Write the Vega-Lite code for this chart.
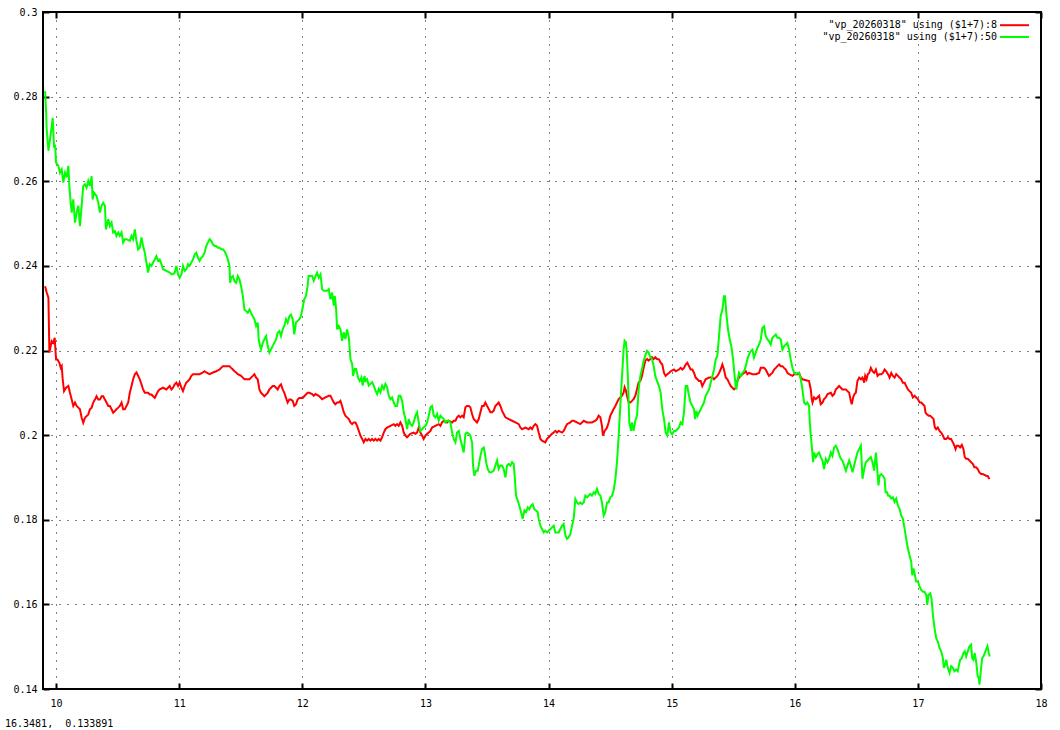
{
"$schema":"https://vega.github.io/schema/vega-lite/v6.json",
"width":998,"height":677,
"autosize":{"type":"none"},
"padding":{"left":43,"top":12,"right":19,"bottom":41},
"background":"white",
"config":{"view":{"stroke":"black","strokeWidth":2},"font":"DejaVu Sans Mono",
"axis":{"labelFont":"DejaVu Sans Mono","labelFontSize":10,"labelColor":"black","domain":false,"tickColor":"black","tickWidth":2,"title":null,"labelFlush":false,"labelOverlap":false,"labelBound":false}},
"title":{"text":"16.3481,\u00a0 0.133891","orient":"bottom","anchor":"start","frame":"group","font":"DejaVu Sans Mono","fontSize":10,"fontWeight":"normal","color":"black","dx":-38,"offset":11},
"datasets":{"d":[
{"s":"8","t":9.911,"v":0.2352},{"s":"8","t":9.924,"v":0.2337},{"s":"8","t":9.938,"v":0.2325},{"s":"8","t":9.946,"v":0.2195},{"s":"8","t":9.957,"v":0.2211},{"s":"8","t":9.965,"v":0.2222},{"s":"8","t":9.978,"v":0.2218},{"s":"8","t":9.989,"v":0.2230},{"s":"8","t":10.0,"v":0.2179},{"s":"8","t":10.011,"v":0.2179},{"s":"8","t":10.027,"v":0.2171},{"s":"8","t":10.038,"v":0.2159},{"s":"8","t":10.046,"v":0.2163},{"s":"8","t":10.054,"v":0.2132},{"s":"8","t":10.065,"v":0.2104},{"s":"8","t":10.081,"v":0.2112},{"s":"8","t":10.1,"v":0.2116},{"s":"8","t":10.113,"v":0.2100},{"s":"8","t":10.127,"v":0.2084},{"s":"8","t":10.14,"v":0.2069},{"s":"8","t":10.154,"v":0.2077},{"s":"8","t":10.167,"v":0.2069},{"s":"8","t":10.181,"v":0.2065},{"s":"8","t":10.194,"v":0.2061},{"s":"8","t":10.208,"v":0.2041},{"s":"8","t":10.221,"v":0.2029},{"s":"8","t":10.235,"v":0.2041},{"s":"8","t":10.248,"v":0.2045},{"s":"8","t":10.262,"v":0.2049},{"s":"8","t":10.275,"v":0.2061},{"s":"8","t":10.289,"v":0.2065},{"s":"8","t":10.302,"v":0.2077},{"s":"8","t":10.316,"v":0.2084},{"s":"8","t":10.329,"v":0.2092},{"s":"8","t":10.343,"v":0.2084},{"s":"8","t":10.356,"v":0.2084},{"s":"8","t":10.37,"v":0.2092},{"s":"8","t":10.383,"v":0.2092},{"s":"8","t":10.397,"v":0.2084},{"s":"8","t":10.41,"v":0.2077},{"s":"8","t":10.424,"v":0.2069},{"s":"8","t":10.437,"v":0.2069},{"s":"8","t":10.451,"v":0.2061},{"s":"8","t":10.464,"v":0.2053},{"s":"8","t":10.478,"v":0.2057},{"s":"8","t":10.491,"v":0.2061},{"s":"8","t":10.505,"v":0.2065},{"s":"8","t":10.518,"v":0.2069},{"s":"8","t":10.532,"v":0.2077},{"s":"8","t":10.545,"v":0.2061},{"s":"8","t":10.559,"v":0.2061},{"s":"8","t":10.572,"v":0.2069},{"s":"8","t":10.586,"v":0.2077},{"s":"8","t":10.599,"v":0.2100},{"s":"8","t":10.613,"v":0.2116},{"s":"8","t":10.626,"v":0.2132},{"s":"8","t":10.64,"v":0.2144},{"s":"8","t":10.653,"v":0.2148},{"s":"8","t":10.667,"v":0.2140},{"s":"8","t":10.68,"v":0.2132},{"s":"8","t":10.694,"v":0.2120},{"s":"8","t":10.707,"v":0.2108},{"s":"8","t":10.721,"v":0.2100},{"s":"8","t":10.748,"v":0.2100},{"s":"8","t":10.761,"v":0.2096},{"s":"8","t":10.775,"v":0.2096},{"s":"8","t":10.788,"v":0.2092},{"s":"8","t":10.802,"v":0.2088},{"s":"8","t":10.815,"v":0.2096},{"s":"8","t":10.829,"v":0.2104},{"s":"8","t":10.842,"v":0.2108},{"s":"8","t":10.869,"v":0.2112},{"s":"8","t":10.896,"v":0.2108},{"s":"8","t":10.923,"v":0.2116},{"s":"8","t":10.937,"v":0.2108},{"s":"8","t":10.95,"v":0.2112},{"s":"8","t":10.964,"v":0.2120},{"s":"8","t":10.977,"v":0.2124},{"s":"8","t":10.991,"v":0.2116},{"s":"8","t":11.004,"v":0.2124},{"s":"8","t":11.018,"v":0.2112},{"s":"8","t":11.031,"v":0.2104},{"s":"8","t":11.045,"v":0.2116},{"s":"8","t":11.058,"v":0.2124},{"s":"8","t":11.072,"v":0.2128},{"s":"8","t":11.085,"v":0.2132},{"s":"8","t":11.099,"v":0.2140},{"s":"8","t":11.112,"v":0.2144},{"s":"8","t":11.139,"v":0.2144},{"s":"8","t":11.166,"v":0.2144},{"s":"8","t":11.193,"v":0.2148},{"s":"8","t":11.206,"v":0.2151},{"s":"8","t":11.22,"v":0.2148},{"s":"8","t":11.247,"v":0.2144},{"s":"8","t":11.274,"v":0.2148},{"s":"8","t":11.301,"v":0.2151},{"s":"8","t":11.328,"v":0.2155},{"s":"8","t":11.355,"v":0.2163},{"s":"8","t":11.382,"v":0.2163},{"s":"8","t":11.409,"v":0.2163},{"s":"8","t":11.422,"v":0.2159},{"s":"8","t":11.436,"v":0.2155},{"s":"8","t":11.449,"v":0.2151},{"s":"8","t":11.463,"v":0.2148},{"s":"8","t":11.476,"v":0.2144},{"s":"8","t":11.503,"v":0.2140},{"s":"8","t":11.517,"v":0.2136},{"s":"8","t":11.53,"v":0.2132},{"s":"8","t":11.571,"v":0.2132},{"s":"8","t":11.584,"v":0.2136},{"s":"8","t":11.598,"v":0.2140},{"s":"8","t":11.611,"v":0.2144},{"s":"8","t":11.625,"v":0.2136},{"s":"8","t":11.638,"v":0.2132},{"s":"8","t":11.652,"v":0.2108},{"s":"8","t":11.665,"v":0.2100},{"s":"8","t":11.679,"v":0.2096},{"s":"8","t":11.692,"v":0.2092},{"s":"8","t":11.706,"v":0.2096},{"s":"8","t":11.719,"v":0.2100},{"s":"8","t":11.733,"v":0.2108},{"s":"8","t":11.746,"v":0.2112},{"s":"8","t":11.76,"v":0.2116},{"s":"8","t":11.773,"v":0.2116},{"s":"8","t":11.787,"v":0.2112},{"s":"8","t":11.8,"v":0.2108},{"s":"8","t":11.814,"v":0.2116},{"s":"8","t":11.827,"v":0.2120},{"s":"8","t":11.841,"v":0.2108},{"s":"8","t":11.854,"v":0.2100},{"s":"8","t":11.868,"v":0.2088},{"s":"8","t":11.881,"v":0.2077},{"s":"8","t":11.895,"v":0.2084},{"s":"8","t":11.908,"v":0.2084},{"s":"8","t":11.922,"v":0.2081},{"s":"8","t":11.935,"v":0.2069},{"s":"8","t":11.949,"v":0.2073},{"s":"8","t":11.962,"v":0.2084},{"s":"8","t":11.976,"v":0.2088},{"s":"8","t":12.003,"v":0.2088},{"s":"8","t":12.016,"v":0.2092},{"s":"8","t":12.03,"v":0.2096},{"s":"8","t":12.043,"v":0.2100},{"s":"8","t":12.057,"v":0.2100},{"s":"8","t":12.08,"v":0.2097},{"s":"8","t":12.093,"v":0.2093},{"s":"8","t":12.107,"v":0.2097},{"s":"8","t":12.134,"v":0.2093},{"s":"8","t":12.148,"v":0.2089},{"s":"8","t":12.161,"v":0.2085},{"s":"8","t":12.188,"v":0.2089},{"s":"8","t":12.215,"v":0.2093},{"s":"8","t":12.229,"v":0.2093},{"s":"8","t":12.242,"v":0.2085},{"s":"8","t":12.256,"v":0.2077},{"s":"8","t":12.269,"v":0.2073},{"s":"8","t":12.283,"v":0.2077},{"s":"8","t":12.296,"v":0.2077},{"s":"8","t":12.31,"v":0.2081},{"s":"8","t":12.323,"v":0.2069},{"s":"8","t":12.337,"v":0.2054},{"s":"8","t":12.35,"v":0.2046},{"s":"8","t":12.364,"v":0.2042},{"s":"8","t":12.378,"v":0.2038},{"s":"8","t":12.391,"v":0.2030},{"s":"8","t":12.405,"v":0.2026},{"s":"8","t":12.418,"v":0.2030},{"s":"8","t":12.432,"v":0.2030},{"s":"8","t":12.445,"v":0.2022},{"s":"8","t":12.459,"v":0.2010},{"s":"8","t":12.472,"v":0.1999},{"s":"8","t":12.486,"v":0.1991},{"s":"8","t":12.499,"v":0.1983},{"s":"8","t":12.513,"v":0.1991},{"s":"8","t":12.526,"v":0.1987},{"s":"8","t":12.54,"v":0.1991},{"s":"8","t":12.553,"v":0.1987},{"s":"8","t":12.567,"v":0.1991},{"s":"8","t":12.581,"v":0.1987},{"s":"8","t":12.594,"v":0.1991},{"s":"8","t":12.608,"v":0.1987},{"s":"8","t":12.621,"v":0.1991},{"s":"8","t":12.635,"v":0.1987},{"s":"8","t":12.648,"v":0.1995},{"s":"8","t":12.662,"v":0.2006},{"s":"8","t":12.675,"v":0.2014},{"s":"8","t":12.689,"v":0.2018},{"s":"8","t":12.716,"v":0.2022},{"s":"8","t":12.743,"v":0.2026},{"s":"8","t":12.756,"v":0.2022},{"s":"8","t":12.77,"v":0.2026},{"s":"8","t":12.783,"v":0.2022},{"s":"8","t":12.797,"v":0.2030},{"s":"8","t":12.811,"v":0.2022},{"s":"8","t":12.824,"v":0.2006},{"s":"8","t":12.838,"v":0.1999},{"s":"8","t":12.851,"v":0.1995},{"s":"8","t":12.865,"v":0.1999},{"s":"8","t":12.878,"v":0.2003},{"s":"8","t":12.905,"v":0.2006},{"s":"8","t":12.919,"v":0.2003},{"s":"8","t":12.932,"v":0.2006},{"s":"8","t":12.946,"v":0.2018},{"s":"8","t":12.959,"v":0.2006},{"s":"8","t":12.973,"v":0.1999},{"s":"8","t":12.986,"v":0.1991},{"s":"8","t":13.0,"v":0.1999},{"s":"8","t":13.014,"v":0.2003},{"s":"8","t":13.027,"v":0.2006},{"s":"8","t":13.041,"v":0.2010},{"s":"8","t":13.054,"v":0.2018},{"s":"8","t":13.081,"v":0.2022},{"s":"8","t":13.108,"v":0.2026},{"s":"8","t":13.122,"v":0.2022},{"s":"8","t":13.135,"v":0.2030},{"s":"8","t":13.149,"v":0.2034},{"s":"8","t":13.176,"v":0.2030},{"s":"8","t":13.189,"v":0.2034},{"s":"8","t":13.217,"v":0.2030},{"s":"8","t":13.23,"v":0.2034},{"s":"8","t":13.244,"v":0.2034},{"s":"8","t":13.257,"v":0.2042},{"s":"8","t":13.271,"v":0.2046},{"s":"8","t":13.284,"v":0.2042},{"s":"8","t":13.298,"v":0.2046},{"s":"8","t":13.311,"v":0.2042},{"s":"8","t":13.325,"v":0.2066},{"s":"8","t":13.338,"v":0.2069},{"s":"8","t":13.352,"v":0.2069},{"s":"8","t":13.365,"v":0.2066},{"s":"8","t":13.379,"v":0.2050},{"s":"8","t":13.392,"v":0.2038},{"s":"8","t":13.406,"v":0.2034},{"s":"8","t":13.419,"v":0.2030},{"s":"8","t":13.433,"v":0.2038},{"s":"8","t":13.447,"v":0.2054},{"s":"8","t":13.46,"v":0.2069},{"s":"8","t":13.474,"v":0.2069},{"s":"8","t":13.487,"v":0.2077},{"s":"8","t":13.501,"v":0.2069},{"s":"8","t":13.514,"v":0.2062},{"s":"8","t":13.528,"v":0.2054},{"s":"8","t":13.541,"v":0.2054},{"s":"8","t":13.555,"v":0.2058},{"s":"8","t":13.568,"v":0.2069},{"s":"8","t":13.582,"v":0.2073},{"s":"8","t":13.595,"v":0.2077},{"s":"8","t":13.609,"v":0.2069},{"s":"8","t":13.622,"v":0.2058},{"s":"8","t":13.636,"v":0.2050},{"s":"8","t":13.65,"v":0.2042},{"s":"8","t":13.677,"v":0.2038},{"s":"8","t":13.704,"v":0.2034},{"s":"8","t":13.731,"v":0.2030},{"s":"8","t":13.758,"v":0.2026},{"s":"8","t":13.771,"v":0.2018},{"s":"8","t":13.785,"v":0.2014},{"s":"8","t":13.812,"v":0.2018},{"s":"8","t":13.839,"v":0.2014},{"s":"8","t":13.852,"v":0.2018},{"s":"8","t":13.866,"v":0.2014},{"s":"8","t":13.88,"v":0.2022},{"s":"8","t":13.893,"v":0.2026},{"s":"8","t":13.907,"v":0.2022},{"s":"8","t":13.92,"v":0.2006},{"s":"8","t":13.934,"v":0.1991},{"s":"8","t":13.947,"v":0.1987},{"s":"8","t":13.974,"v":0.1983},{"s":"8","t":13.988,"v":0.1991},{"s":"8","t":14.001,"v":0.1995},{"s":"8","t":14.015,"v":0.1999},{"s":"8","t":14.028,"v":0.2003},{"s":"8","t":14.042,"v":0.2006},{"s":"8","t":14.055,"v":0.2010},{"s":"8","t":14.069,"v":0.2006},{"s":"8","t":14.083,"v":0.2010},{"s":"8","t":14.11,"v":0.2006},{"s":"8","t":14.123,"v":0.2010},{"s":"8","t":14.137,"v":0.2018},{"s":"8","t":14.15,"v":0.2026},{"s":"8","t":14.177,"v":0.2030},{"s":"8","t":14.191,"v":0.2034},{"s":"8","t":14.204,"v":0.2034},{"s":"8","t":14.231,"v":0.2030},{"s":"8","t":14.258,"v":0.2026},{"s":"8","t":14.286,"v":0.2034},{"s":"8","t":14.313,"v":0.2030},{"s":"8","t":14.353,"v":0.2030},{"s":"8","t":14.38,"v":0.2034},{"s":"8","t":14.394,"v":0.2038},{"s":"8","t":14.407,"v":0.2046},{"s":"8","t":14.421,"v":0.2042},{"s":"8","t":14.434,"v":0.2022},{"s":"8","t":14.442,"v":0.1999},{"s":"8","t":14.456,"v":0.2010},{"s":"8","t":14.467,"v":0.2014},{"s":"8","t":14.475,"v":0.2018},{"s":"8","t":14.488,"v":0.2030},{"s":"8","t":14.502,"v":0.2046},{"s":"8","t":14.516,"v":0.2054},{"s":"8","t":14.529,"v":0.2062},{"s":"8","t":14.543,"v":0.2069},{"s":"8","t":14.556,"v":0.2077},{"s":"8","t":14.57,"v":0.2085},{"s":"8","t":14.583,"v":0.2089},{"s":"8","t":14.597,"v":0.2093},{"s":"8","t":14.61,"v":0.2101},{"s":"8","t":14.618,"v":0.2113},{"s":"8","t":14.629,"v":0.2105},{"s":"8","t":14.637,"v":0.2093},{"s":"8","t":14.651,"v":0.2077},{"s":"8","t":14.664,"v":0.2077},{"s":"8","t":14.678,"v":0.2081},{"s":"8","t":14.691,"v":0.2085},{"s":"8","t":14.705,"v":0.2093},{"s":"8","t":14.719,"v":0.2109},{"s":"8","t":14.732,"v":0.2125},{"s":"8","t":14.746,"v":0.2128},{"s":"8","t":14.759,"v":0.2140},{"s":"8","t":14.773,"v":0.2160},{"s":"8","t":14.786,"v":0.2176},{"s":"8","t":14.8,"v":0.2180},{"s":"8","t":14.813,"v":0.2176},{"s":"8","t":14.827,"v":0.2180},{"s":"8","t":14.84,"v":0.2184},{"s":"8","t":14.854,"v":0.2180},{"s":"8","t":14.867,"v":0.2184},{"s":"8","t":14.881,"v":0.2180},{"s":"8","t":14.897,"v":0.2179},{"s":"8","t":14.911,"v":0.2171},{"s":"8","t":14.924,"v":0.2167},{"s":"8","t":14.938,"v":0.2147},{"s":"8","t":14.951,"v":0.2140},{"s":"8","t":14.965,"v":0.2144},{"s":"8","t":14.978,"v":0.2147},{"s":"8","t":14.992,"v":0.2151},{"s":"8","t":15.019,"v":0.2155},{"s":"8","t":15.033,"v":0.2151},{"s":"8","t":15.06,"v":0.2155},{"s":"8","t":15.073,"v":0.2159},{"s":"8","t":15.087,"v":0.2155},{"s":"8","t":15.1,"v":0.2159},{"s":"8","t":15.114,"v":0.2167},{"s":"8","t":15.127,"v":0.2171},{"s":"8","t":15.141,"v":0.2163},{"s":"8","t":15.154,"v":0.2155},{"s":"8","t":15.168,"v":0.2155},{"s":"8","t":15.182,"v":0.2147},{"s":"8","t":15.195,"v":0.2136},{"s":"8","t":15.209,"v":0.2132},{"s":"8","t":15.222,"v":0.2128},{"s":"8","t":15.236,"v":0.2128},{"s":"8","t":15.249,"v":0.2116},{"s":"8","t":15.263,"v":0.2124},{"s":"8","t":15.276,"v":0.2132},{"s":"8","t":15.304,"v":0.2136},{"s":"8","t":15.331,"v":0.2136},{"s":"8","t":15.344,"v":0.2132},{"s":"8","t":15.358,"v":0.2136},{"s":"8","t":15.371,"v":0.2140},{"s":"8","t":15.385,"v":0.2147},{"s":"8","t":15.398,"v":0.2155},{"s":"8","t":15.412,"v":0.2167},{"s":"8","t":15.425,"v":0.2155},{"s":"8","t":15.439,"v":0.2136},{"s":"8","t":15.453,"v":0.2132},{"s":"8","t":15.466,"v":0.2124},{"s":"8","t":15.48,"v":0.2116},{"s":"8","t":15.493,"v":0.2112},{"s":"8","t":15.507,"v":0.2108},{"s":"8","t":15.52,"v":0.2112},{"s":"8","t":15.534,"v":0.2128},{"s":"8","t":15.547,"v":0.2136},{"s":"8","t":15.561,"v":0.2140},{"s":"8","t":15.575,"v":0.2144},{"s":"8","t":15.588,"v":0.2147},{"s":"8","t":15.602,"v":0.2151},{"s":"8","t":15.615,"v":0.2144},{"s":"8","t":15.629,"v":0.2147},{"s":"8","t":15.656,"v":0.2144},{"s":"8","t":15.683,"v":0.2144},{"s":"8","t":15.71,"v":0.2147},{"s":"8","t":15.724,"v":0.2159},{"s":"8","t":15.751,"v":0.2159},{"s":"8","t":15.764,"v":0.2155},{"s":"8","t":15.778,"v":0.2147},{"s":"8","t":15.791,"v":0.2140},{"s":"8","t":15.805,"v":0.2144},{"s":"8","t":15.818,"v":0.2147},{"s":"8","t":15.832,"v":0.2155},{"s":"8","t":15.846,"v":0.2159},{"s":"8","t":15.859,"v":0.2163},{"s":"8","t":15.873,"v":0.2167},{"s":"8","t":15.886,"v":0.2163},{"s":"8","t":15.9,"v":0.2163},{"s":"8","t":15.913,"v":0.2159},{"s":"8","t":15.927,"v":0.2155},{"s":"8","t":15.94,"v":0.2147},{"s":"8","t":15.954,"v":0.2144},{"s":"8","t":15.981,"v":0.2140},{"s":"8","t":15.995,"v":0.2144},{"s":"8","t":16.022,"v":0.2144},{"s":"8","t":16.035,"v":0.2147},{"s":"8","t":16.049,"v":0.2136},{"s":"8","t":16.062,"v":0.2132},{"s":"8","t":16.116,"v":0.2128},{"s":"8","t":16.13,"v":0.2108},{"s":"8","t":16.138,"v":0.2085},{"s":"8","t":16.144,"v":0.2077},{"s":"8","t":16.157,"v":0.2089},{"s":"8","t":16.171,"v":0.2085},{"s":"8","t":16.184,"v":0.2089},{"s":"8","t":16.198,"v":0.2093},{"s":"8","t":16.211,"v":0.2073},{"s":"8","t":16.225,"v":0.2077},{"s":"8","t":16.238,"v":0.2085},{"s":"8","t":16.252,"v":0.2089},{"s":"8","t":16.266,"v":0.2097},{"s":"8","t":16.293,"v":0.2100},{"s":"8","t":16.306,"v":0.2093},{"s":"8","t":16.32,"v":0.2097},{"s":"8","t":16.333,"v":0.2108},{"s":"8","t":16.347,"v":0.2112},{"s":"8","t":16.36,"v":0.2116},{"s":"8","t":16.374,"v":0.2112},{"s":"8","t":16.387,"v":0.2108},{"s":"8","t":16.415,"v":0.2108},{"s":"8","t":16.428,"v":0.2104},{"s":"8","t":16.442,"v":0.2100},{"s":"8","t":16.455,"v":0.2081},{"s":"8","t":16.463,"v":0.2073},{"s":"8","t":16.474,"v":0.2089},{"s":"8","t":16.485,"v":0.2097},{"s":"8","t":16.496,"v":0.2100},{"s":"8","t":16.509,"v":0.2128},{"s":"8","t":16.523,"v":0.2136},{"s":"8","t":16.537,"v":0.2132},{"s":"8","t":16.55,"v":0.2136},{"s":"8","t":16.564,"v":0.2124},{"s":"8","t":16.572,"v":0.2140},{"s":"8","t":16.583,"v":0.2132},{"s":"8","t":16.593,"v":0.2144},{"s":"8","t":16.604,"v":0.2147},{"s":"8","t":16.618,"v":0.2159},{"s":"8","t":16.631,"v":0.2151},{"s":"8","t":16.645,"v":0.2147},{"s":"8","t":16.659,"v":0.2155},{"s":"8","t":16.672,"v":0.2140},{"s":"8","t":16.686,"v":0.2144},{"s":"8","t":16.703,"v":0.2144},{"s":"8","t":16.716,"v":0.2147},{"s":"8","t":16.73,"v":0.2155},{"s":"8","t":16.743,"v":0.2151},{"s":"8","t":16.757,"v":0.2144},{"s":"8","t":16.77,"v":0.2136},{"s":"8","t":16.784,"v":0.2147},{"s":"8","t":16.797,"v":0.2140},{"s":"8","t":16.811,"v":0.2136},{"s":"8","t":16.824,"v":0.2144},{"s":"8","t":16.838,"v":0.2140},{"s":"8","t":16.851,"v":0.2136},{"s":"8","t":16.865,"v":0.2132},{"s":"8","t":16.878,"v":0.2124},{"s":"8","t":16.892,"v":0.2124},{"s":"8","t":16.905,"v":0.2116},{"s":"8","t":16.919,"v":0.2108},{"s":"8","t":16.932,"v":0.2104},{"s":"8","t":16.946,"v":0.2100},{"s":"8","t":16.959,"v":0.2089},{"s":"8","t":16.973,"v":0.2093},{"s":"8","t":16.986,"v":0.2089},{"s":"8","t":17.0,"v":0.2085},{"s":"8","t":17.014,"v":0.2077},{"s":"8","t":17.027,"v":0.2077},{"s":"8","t":17.041,"v":0.2073},{"s":"8","t":17.054,"v":0.2069},{"s":"8","t":17.062,"v":0.2053},{"s":"8","t":17.073,"v":0.2049},{"s":"8","t":17.087,"v":0.2046},{"s":"8","t":17.1,"v":0.2046},{"s":"8","t":17.114,"v":0.2042},{"s":"8","t":17.127,"v":0.2038},{"s":"8","t":17.138,"v":0.2018},{"s":"8","t":17.149,"v":0.2014},{"s":"8","t":17.162,"v":0.2018},{"s":"8","t":17.176,"v":0.2010},{"s":"8","t":17.189,"v":0.2006},{"s":"8","t":17.203,"v":0.1999},{"s":"8","t":17.216,"v":0.1991},{"s":"8","t":17.23,"v":0.1991},{"s":"8","t":17.243,"v":0.1995},{"s":"8","t":17.257,"v":0.1991},{"s":"8","t":17.27,"v":0.1991},{"s":"8","t":17.284,"v":0.1983},{"s":"8","t":17.297,"v":0.1975},{"s":"8","t":17.306,"v":0.1967},{"s":"8","t":17.316,"v":0.1975},{"s":"8","t":17.33,"v":0.1975},{"s":"8","t":17.343,"v":0.1971},{"s":"8","t":17.357,"v":0.1977},{"s":"8","t":17.37,"v":0.1967},{"s":"8","t":17.381,"v":0.1948},{"s":"8","t":17.392,"v":0.1944},{"s":"8","t":17.405,"v":0.1944},{"s":"8","t":17.419,"v":0.1940},{"s":"8","t":17.432,"v":0.1936},{"s":"8","t":17.446,"v":0.1932},{"s":"8","t":17.459,"v":0.1924},{"s":"8","t":17.473,"v":0.1924},{"s":"8","t":17.486,"v":0.1920},{"s":"8","t":17.5,"v":0.1912},{"s":"8","t":17.514,"v":0.1908},{"s":"8","t":17.527,"v":0.1908},{"s":"8","t":17.541,"v":0.1906},{"s":"8","t":17.554,"v":0.1904},{"s":"8","t":17.568,"v":0.1903},{"s":"8","t":17.581,"v":0.1896},
{"s":"50","t":9.911,"v":0.2813},{"s":"50","t":9.919,"v":0.2766},{"s":"50","t":9.924,"v":0.2723},{"s":"50","t":9.938,"v":0.2672},{"s":"50","t":9.951,"v":0.2699},{"s":"50","t":9.965,"v":0.2731},{"s":"50","t":9.973,"v":0.2750},{"s":"50","t":9.984,"v":0.2679},{"s":"50","t":9.992,"v":0.2687},{"s":"50","t":10.0,"v":0.2644},{"s":"50","t":10.019,"v":0.2636},{"s":"50","t":10.032,"v":0.2620},{"s":"50","t":10.046,"v":0.2628},{"s":"50","t":10.059,"v":0.2597},{"s":"50","t":10.073,"v":0.2620},{"s":"50","t":10.086,"v":0.2609},{"s":"50","t":10.1,"v":0.2636},{"s":"50","t":10.108,"v":0.2589},{"s":"50","t":10.119,"v":0.2549},{"s":"50","t":10.127,"v":0.2526},{"s":"50","t":10.14,"v":0.2557},{"s":"50","t":10.154,"v":0.2502},{"s":"50","t":10.167,"v":0.2526},{"s":"50","t":10.181,"v":0.2542},{"s":"50","t":10.194,"v":0.2494},{"s":"50","t":10.208,"v":0.2542},{"s":"50","t":10.221,"v":0.2589},{"s":"50","t":10.235,"v":0.2593},{"s":"50","t":10.248,"v":0.2585},{"s":"50","t":10.262,"v":0.2601},{"s":"50","t":10.275,"v":0.2589},{"s":"50","t":10.289,"v":0.2612},{"s":"50","t":10.297,"v":0.2557},{"s":"50","t":10.308,"v":0.2573},{"s":"50","t":10.329,"v":0.2565},{"s":"50","t":10.343,"v":0.2549},{"s":"50","t":10.356,"v":0.2526},{"s":"50","t":10.37,"v":0.2542},{"s":"50","t":10.383,"v":0.2549},{"s":"50","t":10.397,"v":0.2542},{"s":"50","t":10.405,"v":0.2486},{"s":"50","t":10.424,"v":0.2510},{"s":"50","t":10.437,"v":0.2494},{"s":"50","t":10.451,"v":0.2502},{"s":"50","t":10.464,"v":0.2479},{"s":"50","t":10.478,"v":0.2482},{"s":"50","t":10.491,"v":0.2471},{"s":"50","t":10.505,"v":0.2479},{"s":"50","t":10.518,"v":0.2471},{"s":"50","t":10.532,"v":0.2479},{"s":"50","t":10.545,"v":0.2455},{"s":"50","t":10.559,"v":0.2463},{"s":"50","t":10.572,"v":0.2463},{"s":"50","t":10.599,"v":0.2459},{"s":"50","t":10.613,"v":0.2471},{"s":"50","t":10.626,"v":0.2463},{"s":"50","t":10.64,"v":0.2486},{"s":"50","t":10.653,"v":0.2459},{"s":"50","t":10.667,"v":0.2439},{"s":"50","t":10.68,"v":0.2443},{"s":"50","t":10.694,"v":0.2467},{"s":"50","t":10.707,"v":0.2447},{"s":"50","t":10.721,"v":0.2431},{"s":"50","t":10.734,"v":0.2408},{"s":"50","t":10.748,"v":0.2384},{"s":"50","t":10.761,"v":0.2404},{"s":"50","t":10.775,"v":0.2400},{"s":"50","t":10.788,"v":0.2408},{"s":"50","t":10.802,"v":0.2415},{"s":"50","t":10.815,"v":0.2423},{"s":"50","t":10.829,"v":0.2412},{"s":"50","t":10.842,"v":0.2415},{"s":"50","t":10.856,"v":0.2404},{"s":"50","t":10.869,"v":0.2392},{"s":"50","t":10.896,"v":0.2388},{"s":"50","t":10.923,"v":0.2384},{"s":"50","t":10.937,"v":0.2380},{"s":"50","t":10.95,"v":0.2380},{"s":"50","t":10.964,"v":0.2384},{"s":"50","t":10.977,"v":0.2400},{"s":"50","t":10.991,"v":0.2380},{"s":"50","t":11.004,"v":0.2372},{"s":"50","t":11.018,"v":0.2380},{"s":"50","t":11.031,"v":0.2400},{"s":"50","t":11.045,"v":0.2388},{"s":"50","t":11.058,"v":0.2392},{"s":"50","t":11.072,"v":0.2404},{"s":"50","t":11.085,"v":0.2400},{"s":"50","t":11.099,"v":0.2408},{"s":"50","t":11.112,"v":0.2415},{"s":"50","t":11.126,"v":0.2427},{"s":"50","t":11.139,"v":0.2431},{"s":"50","t":11.153,"v":0.2419},{"s":"50","t":11.166,"v":0.2412},{"s":"50","t":11.179,"v":0.2419},{"s":"50","t":11.193,"v":0.2423},{"s":"50","t":11.206,"v":0.2431},{"s":"50","t":11.22,"v":0.2447},{"s":"50","t":11.233,"v":0.2455},{"s":"50","t":11.247,"v":0.2463},{"s":"50","t":11.26,"v":0.2459},{"s":"50","t":11.274,"v":0.2451},{"s":"50","t":11.287,"v":0.2447},{"s":"50","t":11.301,"v":0.2447},{"s":"50","t":11.314,"v":0.2443},{"s":"50","t":11.328,"v":0.2443},{"s":"50","t":11.341,"v":0.2439},{"s":"50","t":11.355,"v":0.2439},{"s":"50","t":11.368,"v":0.2435},{"s":"50","t":11.382,"v":0.2427},{"s":"50","t":11.395,"v":0.2415},{"s":"50","t":11.409,"v":0.2400},{"s":"50","t":11.414,"v":0.2360},{"s":"50","t":11.422,"v":0.2372},{"s":"50","t":11.436,"v":0.2376},{"s":"50","t":11.449,"v":0.2364},{"s":"50","t":11.463,"v":0.2360},{"s":"50","t":11.476,"v":0.2376},{"s":"50","t":11.49,"v":0.2368},{"s":"50","t":11.503,"v":0.2352},{"s":"50","t":11.517,"v":0.2329},{"s":"50","t":11.53,"v":0.2297},{"s":"50","t":11.544,"v":0.2293},{"s":"50","t":11.557,"v":0.2289},{"s":"50","t":11.571,"v":0.2297},{"s":"50","t":11.584,"v":0.2289},{"s":"50","t":11.598,"v":0.2281},{"s":"50","t":11.611,"v":0.2274},{"s":"50","t":11.625,"v":0.2258},{"s":"50","t":11.638,"v":0.2266},{"s":"50","t":11.646,"v":0.2226},{"s":"50","t":11.657,"v":0.2211},{"s":"50","t":11.665,"v":0.2203},{"s":"50","t":11.679,"v":0.2218},{"s":"50","t":11.692,"v":0.2226},{"s":"50","t":11.706,"v":0.2234},{"s":"50","t":11.719,"v":0.2211},{"s":"50","t":11.733,"v":0.2195},{"s":"50","t":11.746,"v":0.2203},{"s":"50","t":11.76,"v":0.2211},{"s":"50","t":11.773,"v":0.2218},{"s":"50","t":11.787,"v":0.2226},{"s":"50","t":11.8,"v":0.2242},{"s":"50","t":11.814,"v":0.2246},{"s":"50","t":11.827,"v":0.2234},{"s":"50","t":11.841,"v":0.2250},{"s":"50","t":11.854,"v":0.2258},{"s":"50","t":11.868,"v":0.2274},{"s":"50","t":11.881,"v":0.2266},{"s":"50","t":11.895,"v":0.2281},{"s":"50","t":11.908,"v":0.2285},{"s":"50","t":11.922,"v":0.2274},{"s":"50","t":11.935,"v":0.2238},{"s":"50","t":11.949,"v":0.2266},{"s":"50","t":11.962,"v":0.2270},{"s":"50","t":11.976,"v":0.2274},{"s":"50","t":11.989,"v":0.2281},{"s":"50","t":12.003,"v":0.2301},{"s":"50","t":12.016,"v":0.2321},{"s":"50","t":12.03,"v":0.2329},{"s":"50","t":12.043,"v":0.2352},{"s":"50","t":12.051,"v":0.2376},{"s":"50","t":12.08,"v":0.2376},{"s":"50","t":12.093,"v":0.2365},{"s":"50","t":12.107,"v":0.2376},{"s":"50","t":12.12,"v":0.2384},{"s":"50","t":12.134,"v":0.2372},{"s":"50","t":12.148,"v":0.2380},{"s":"50","t":12.161,"v":0.2345},{"s":"50","t":12.175,"v":0.2341},{"s":"50","t":12.188,"v":0.2341},{"s":"50","t":12.202,"v":0.2341},{"s":"50","t":12.215,"v":0.2345},{"s":"50","t":12.229,"v":0.2321},{"s":"50","t":12.242,"v":0.2337},{"s":"50","t":12.256,"v":0.2306},{"s":"50","t":12.264,"v":0.2329},{"s":"50","t":12.275,"v":0.2298},{"s":"50","t":12.283,"v":0.2250},{"s":"50","t":12.296,"v":0.2258},{"s":"50","t":12.31,"v":0.2250},{"s":"50","t":12.323,"v":0.2223},{"s":"50","t":12.337,"v":0.2243},{"s":"50","t":12.35,"v":0.2227},{"s":"50","t":12.364,"v":0.2250},{"s":"50","t":12.378,"v":0.2231},{"s":"50","t":12.391,"v":0.2180},{"s":"50","t":12.405,"v":0.2168},{"s":"50","t":12.413,"v":0.2140},{"s":"50","t":12.426,"v":0.2156},{"s":"50","t":12.437,"v":0.2156},{"s":"50","t":12.453,"v":0.2136},{"s":"50","t":12.467,"v":0.2128},{"s":"50","t":12.48,"v":0.2136},{"s":"50","t":12.491,"v":0.2117},{"s":"50","t":12.505,"v":0.2140},{"s":"50","t":12.513,"v":0.2128},{"s":"50","t":12.526,"v":0.2132},{"s":"50","t":12.54,"v":0.2117},{"s":"50","t":12.553,"v":0.2121},{"s":"50","t":12.567,"v":0.2125},{"s":"50","t":12.581,"v":0.2117},{"s":"50","t":12.594,"v":0.2105},{"s":"50","t":12.608,"v":0.2097},{"s":"50","t":12.621,"v":0.2109},{"s":"50","t":12.635,"v":0.2101},{"s":"50","t":12.648,"v":0.2117},{"s":"50","t":12.662,"v":0.2109},{"s":"50","t":12.675,"v":0.2121},{"s":"50","t":12.689,"v":0.2113},{"s":"50","t":12.702,"v":0.2093},{"s":"50","t":12.716,"v":0.2085},{"s":"50","t":12.729,"v":0.2089},{"s":"50","t":12.743,"v":0.2077},{"s":"50","t":12.756,"v":0.2069},{"s":"50","t":12.77,"v":0.2069},{"s":"50","t":12.783,"v":0.2093},{"s":"50","t":12.797,"v":0.2093},{"s":"50","t":12.811,"v":0.2081},{"s":"50","t":12.824,"v":0.2054},{"s":"50","t":12.838,"v":0.2038},{"s":"50","t":12.851,"v":0.2014},{"s":"50","t":12.865,"v":0.2038},{"s":"50","t":12.878,"v":0.2026},{"s":"50","t":12.892,"v":0.2022},{"s":"50","t":12.905,"v":0.2030},{"s":"50","t":12.919,"v":0.2046},{"s":"50","t":12.932,"v":0.2054},{"s":"50","t":12.946,"v":0.2030},{"s":"50","t":12.959,"v":0.2010},{"s":"50","t":12.973,"v":0.2014},{"s":"50","t":12.986,"v":0.2018},{"s":"50","t":13.0,"v":0.2022},{"s":"50","t":13.014,"v":0.2030},{"s":"50","t":13.027,"v":0.2046},{"s":"50","t":13.041,"v":0.2066},{"s":"50","t":13.054,"v":0.2069},{"s":"50","t":13.068,"v":0.2046},{"s":"50","t":13.081,"v":0.2042},{"s":"50","t":13.095,"v":0.2050},{"s":"50","t":13.108,"v":0.2034},{"s":"50","t":13.122,"v":0.2046},{"s":"50","t":13.135,"v":0.2042},{"s":"50","t":13.149,"v":0.2038},{"s":"50","t":13.162,"v":0.2030},{"s":"50","t":13.176,"v":0.2034},{"s":"50","t":13.189,"v":0.2034},{"s":"50","t":13.203,"v":0.2030},{"s":"50","t":13.217,"v":0.2006},{"s":"50","t":13.23,"v":0.1991},{"s":"50","t":13.244,"v":0.1983},{"s":"50","t":13.257,"v":0.2006},{"s":"50","t":13.271,"v":0.2010},{"s":"50","t":13.284,"v":0.1991},{"s":"50","t":13.298,"v":0.1975},{"s":"50","t":13.311,"v":0.1959},{"s":"50","t":13.325,"v":0.2003},{"s":"50","t":13.338,"v":0.2006},{"s":"50","t":13.352,"v":0.2003},{"s":"50","t":13.365,"v":0.1999},{"s":"50","t":13.379,"v":0.1983},{"s":"50","t":13.387,"v":0.1928},{"s":"50","t":13.398,"v":0.1904},{"s":"50","t":13.411,"v":0.1916},{"s":"50","t":13.425,"v":0.1916},{"s":"50","t":13.433,"v":0.1928},{"s":"50","t":13.447,"v":0.1951},{"s":"50","t":13.46,"v":0.1967},{"s":"50","t":13.474,"v":0.1971},{"s":"50","t":13.482,"v":0.1959},{"s":"50","t":13.493,"v":0.1936},{"s":"50","t":13.506,"v":0.1920},{"s":"50","t":13.52,"v":0.1912},{"s":"50","t":13.536,"v":0.1912},{"s":"50","t":13.555,"v":0.1916},{"s":"50","t":13.568,"v":0.1928},{"s":"50","t":13.582,"v":0.1940},{"s":"50","t":13.595,"v":0.1920},{"s":"50","t":13.609,"v":0.1928},{"s":"50","t":13.622,"v":0.1928},{"s":"50","t":13.636,"v":0.1920},{"s":"50","t":13.65,"v":0.1900},{"s":"50","t":13.663,"v":0.1928},{"s":"50","t":13.677,"v":0.1932},{"s":"50","t":13.69,"v":0.1928},{"s":"50","t":13.704,"v":0.1936},{"s":"50","t":13.717,"v":0.1932},{"s":"50","t":13.725,"v":0.1904},{"s":"50","t":13.736,"v":0.1857},{"s":"50","t":13.75,"v":0.1845},{"s":"50","t":13.763,"v":0.1833},{"s":"50","t":13.777,"v":0.1818},{"s":"50","t":13.79,"v":0.1802},{"s":"50","t":13.804,"v":0.1822},{"s":"50","t":13.817,"v":0.1818},{"s":"50","t":13.831,"v":0.1829},{"s":"50","t":13.844,"v":0.1825},{"s":"50","t":13.858,"v":0.1833},{"s":"50","t":13.871,"v":0.1837},{"s":"50","t":13.885,"v":0.1825},{"s":"50","t":13.898,"v":0.1822},{"s":"50","t":13.912,"v":0.1818},{"s":"50","t":13.92,"v":0.1802},{"s":"50","t":13.934,"v":0.1786},{"s":"50","t":13.947,"v":0.1778},{"s":"50","t":13.961,"v":0.1770},{"s":"50","t":13.974,"v":0.1774},{"s":"50","t":13.988,"v":0.1770},{"s":"50","t":14.001,"v":0.1774},{"s":"50","t":14.015,"v":0.1778},{"s":"50","t":14.028,"v":0.1782},{"s":"50","t":14.042,"v":0.1786},{"s":"50","t":14.055,"v":0.1770},{"s":"50","t":14.069,"v":0.1770},{"s":"50","t":14.083,"v":0.1770},{"s":"50","t":14.096,"v":0.1778},{"s":"50","t":14.11,"v":0.1786},{"s":"50","t":14.123,"v":0.1790},{"s":"50","t":14.137,"v":0.1763},{"s":"50","t":14.15,"v":0.1755},{"s":"50","t":14.164,"v":0.1759},{"s":"50","t":14.177,"v":0.1766},{"s":"50","t":14.191,"v":0.1786},{"s":"50","t":14.204,"v":0.1802},{"s":"50","t":14.218,"v":0.1849},{"s":"50","t":14.231,"v":0.1841},{"s":"50","t":14.245,"v":0.1837},{"s":"50","t":14.258,"v":0.1841},{"s":"50","t":14.272,"v":0.1837},{"s":"50","t":14.286,"v":0.1841},{"s":"50","t":14.299,"v":0.1857},{"s":"50","t":14.313,"v":0.1853},{"s":"50","t":14.326,"v":0.1857},{"s":"50","t":14.34,"v":0.1861},{"s":"50","t":14.353,"v":0.1857},{"s":"50","t":14.367,"v":0.1865},{"s":"50","t":14.38,"v":0.1861},{"s":"50","t":14.394,"v":0.1873},{"s":"50","t":14.407,"v":0.1861},{"s":"50","t":14.421,"v":0.1857},{"s":"50","t":14.434,"v":0.1841},{"s":"50","t":14.448,"v":0.1810},{"s":"50","t":14.461,"v":0.1818},{"s":"50","t":14.475,"v":0.1841},{"s":"50","t":14.488,"v":0.1841},{"s":"50","t":14.502,"v":0.1853},{"s":"50","t":14.516,"v":0.1857},{"s":"50","t":14.529,"v":0.1869},{"s":"50","t":14.543,"v":0.1896},{"s":"50","t":14.556,"v":0.1936},{"s":"50","t":14.57,"v":0.1999},{"s":"50","t":14.583,"v":0.2069},{"s":"50","t":14.597,"v":0.2140},{"s":"50","t":14.61,"v":0.2203},{"s":"50","t":14.618,"v":0.2223},{"s":"50","t":14.629,"v":0.2219},{"s":"50","t":14.637,"v":0.2188},{"s":"50","t":14.645,"v":0.2132},{"s":"50","t":14.656,"v":0.2030},{"s":"50","t":14.67,"v":0.2010},{"s":"50","t":14.678,"v":0.2030},{"s":"50","t":14.691,"v":0.2010},{"s":"50","t":14.705,"v":0.2034},{"s":"50","t":14.719,"v":0.2046},{"s":"50","t":14.732,"v":0.2109},{"s":"50","t":14.746,"v":0.2140},{"s":"50","t":14.759,"v":0.2156},{"s":"50","t":14.773,"v":0.2176},{"s":"50","t":14.786,"v":0.2188},{"s":"50","t":14.8,"v":0.2199},{"s":"50","t":14.813,"v":0.2195},{"s":"50","t":14.827,"v":0.2184},{"s":"50","t":14.84,"v":0.2180},{"s":"50","t":14.854,"v":0.2164},{"s":"50","t":14.867,"v":0.2140},{"s":"50","t":14.881,"v":0.2128},{"s":"50","t":14.897,"v":0.2116},{"s":"50","t":14.911,"v":0.2100},{"s":"50","t":14.924,"v":0.2061},{"s":"50","t":14.938,"v":0.2038},{"s":"50","t":14.951,"v":0.2006},{"s":"50","t":14.965,"v":0.1999},{"s":"50","t":14.978,"v":0.2030},{"s":"50","t":14.992,"v":0.2006},{"s":"50","t":15.005,"v":0.2002},{"s":"50","t":15.019,"v":0.2010},{"s":"50","t":15.033,"v":0.2010},{"s":"50","t":15.046,"v":0.2014},{"s":"50","t":15.06,"v":0.2018},{"s":"50","t":15.073,"v":0.2030},{"s":"50","t":15.087,"v":0.2026},{"s":"50","t":15.1,"v":0.2053},{"s":"50","t":15.114,"v":0.2116},{"s":"50","t":15.127,"v":0.2116},{"s":"50","t":15.141,"v":0.2093},{"s":"50","t":15.154,"v":0.2077},{"s":"50","t":15.168,"v":0.2069},{"s":"50","t":15.182,"v":0.2061},{"s":"50","t":15.19,"v":0.2038},{"s":"50","t":15.201,"v":0.2057},{"s":"50","t":15.211,"v":0.2046},{"s":"50","t":15.222,"v":0.2053},{"s":"50","t":15.236,"v":0.2061},{"s":"50","t":15.249,"v":0.2069},{"s":"50","t":15.263,"v":0.2077},{"s":"50","t":15.276,"v":0.2093},{"s":"50","t":15.29,"v":0.2100},{"s":"50","t":15.304,"v":0.2108},{"s":"50","t":15.317,"v":0.2124},{"s":"50","t":15.331,"v":0.2140},{"s":"50","t":15.344,"v":0.2155},{"s":"50","t":15.358,"v":0.2179},{"s":"50","t":15.371,"v":0.2187},{"s":"50","t":15.385,"v":0.2234},{"s":"50","t":15.398,"v":0.2281},{"s":"50","t":15.412,"v":0.2296},{"s":"50","t":15.425,"v":0.2328},{"s":"50","t":15.434,"v":0.2328},{"s":"50","t":15.444,"v":0.2289},{"s":"50","t":15.458,"v":0.2249},{"s":"50","t":15.472,"v":0.2226},{"s":"50","t":15.485,"v":0.2210},{"s":"50","t":15.499,"v":0.2179},{"s":"50","t":15.509,"v":0.2147},{"s":"50","t":15.52,"v":0.2116},{"s":"50","t":15.526,"v":0.2108},{"s":"50","t":15.537,"v":0.2132},{"s":"50","t":15.547,"v":0.2147},{"s":"50","t":15.561,"v":0.2140},{"s":"50","t":15.575,"v":0.2147},{"s":"50","t":15.588,"v":0.2151},{"s":"50","t":15.602,"v":0.2163},{"s":"50","t":15.615,"v":0.2179},{"s":"50","t":15.629,"v":0.2191},{"s":"50","t":15.642,"v":0.2198},{"s":"50","t":15.656,"v":0.2202},{"s":"50","t":15.669,"v":0.2183},{"s":"50","t":15.683,"v":0.2195},{"s":"50","t":15.696,"v":0.2206},{"s":"50","t":15.71,"v":0.2214},{"s":"50","t":15.724,"v":0.2226},{"s":"50","t":15.737,"v":0.2253},{"s":"50","t":15.751,"v":0.2257},{"s":"50","t":15.764,"v":0.2234},{"s":"50","t":15.778,"v":0.2226},{"s":"50","t":15.791,"v":0.2222},{"s":"50","t":15.805,"v":0.2214},{"s":"50","t":15.818,"v":0.2230},{"s":"50","t":15.832,"v":0.2234},{"s":"50","t":15.846,"v":0.2238},{"s":"50","t":15.859,"v":0.2230},{"s":"50","t":15.873,"v":0.2230},{"s":"50","t":15.886,"v":0.2226},{"s":"50","t":15.9,"v":0.2202},{"s":"50","t":15.913,"v":0.2210},{"s":"50","t":15.927,"v":0.2214},{"s":"50","t":15.94,"v":0.2218},{"s":"50","t":15.954,"v":0.2202},{"s":"50","t":15.967,"v":0.2179},{"s":"50","t":15.981,"v":0.2159},{"s":"50","t":15.995,"v":0.2147},{"s":"50","t":16.008,"v":0.2144},{"s":"50","t":16.022,"v":0.2147},{"s":"50","t":16.035,"v":0.2147},{"s":"50","t":16.049,"v":0.2132},{"s":"50","t":16.062,"v":0.2108},{"s":"50","t":16.076,"v":0.2077},{"s":"50","t":16.089,"v":0.2073},{"s":"50","t":16.103,"v":0.2077},{"s":"50","t":16.116,"v":0.2069},{"s":"50","t":16.122,"v":0.2030},{"s":"50","t":16.13,"v":0.1999},{"s":"50","t":16.138,"v":0.1975},{"s":"50","t":16.149,"v":0.1936},{"s":"50","t":16.157,"v":0.1959},{"s":"50","t":16.171,"v":0.1948},{"s":"50","t":16.184,"v":0.1955},{"s":"50","t":16.198,"v":0.1959},{"s":"50","t":16.211,"v":0.1948},{"s":"50","t":16.225,"v":0.1940},{"s":"50","t":16.238,"v":0.1920},{"s":"50","t":16.252,"v":0.1944},{"s":"50","t":16.266,"v":0.1936},{"s":"50","t":16.279,"v":0.1944},{"s":"50","t":16.293,"v":0.1959},{"s":"50","t":16.306,"v":0.1951},{"s":"50","t":16.32,"v":0.1971},{"s":"50","t":16.333,"v":0.1975},{"s":"50","t":16.347,"v":0.1967},{"s":"50","t":16.36,"v":0.1955},{"s":"50","t":16.374,"v":0.1944},{"s":"50","t":16.387,"v":0.1940},{"s":"50","t":16.401,"v":0.1928},{"s":"50","t":16.415,"v":0.1916},{"s":"50","t":16.428,"v":0.1928},{"s":"50","t":16.442,"v":0.1940},{"s":"50","t":16.455,"v":0.1928},{"s":"50","t":16.469,"v":0.1912},{"s":"50","t":16.482,"v":0.1928},{"s":"50","t":16.496,"v":0.1944},{"s":"50","t":16.509,"v":0.1959},{"s":"50","t":16.523,"v":0.1967},{"s":"50","t":16.537,"v":0.1975},{"s":"50","t":16.55,"v":0.1897},{"s":"50","t":16.564,"v":0.1920},{"s":"50","t":16.577,"v":0.1936},{"s":"50","t":16.591,"v":0.1940},{"s":"50","t":16.604,"v":0.1944},{"s":"50","t":16.618,"v":0.1948},{"s":"50","t":16.631,"v":0.1936},{"s":"50","t":16.645,"v":0.1916},{"s":"50","t":16.659,"v":0.1959},{"s":"50","t":16.672,"v":0.1912},{"s":"50","t":16.68,"v":0.1881},{"s":"50","t":16.689,"v":0.1904},{"s":"50","t":16.703,"v":0.1908},{"s":"50","t":16.716,"v":0.1904},{"s":"50","t":16.73,"v":0.1897},{"s":"50","t":16.738,"v":0.1865},{"s":"50","t":16.749,"v":0.1865},{"s":"50","t":16.759,"v":0.1857},{"s":"50","t":16.77,"v":0.1857},{"s":"50","t":16.784,"v":0.1850},{"s":"50","t":16.797,"v":0.1853},{"s":"50","t":16.811,"v":0.1842},{"s":"50","t":16.824,"v":0.1850},{"s":"50","t":16.838,"v":0.1834},{"s":"50","t":16.851,"v":0.1826},{"s":"50","t":16.865,"v":0.1810},{"s":"50","t":16.878,"v":0.1803},{"s":"50","t":16.892,"v":0.1779},{"s":"50","t":16.905,"v":0.1755},{"s":"50","t":16.919,"v":0.1732},{"s":"50","t":16.932,"v":0.1716},{"s":"50","t":16.946,"v":0.1701},{"s":"50","t":16.954,"v":0.1669},{"s":"50","t":16.965,"v":0.1685},{"s":"50","t":16.976,"v":0.1669},{"s":"50","t":16.986,"v":0.1654},{"s":"50","t":17.0,"v":0.1654},{"s":"50","t":17.014,"v":0.1642},{"s":"50","t":17.027,"v":0.1634},{"s":"50","t":17.041,"v":0.1630},{"s":"50","t":17.054,"v":0.1630},{"s":"50","t":17.068,"v":0.1622},{"s":"50","t":17.076,"v":0.1599},{"s":"50","t":17.086,"v":0.1622},{"s":"50","t":17.1,"v":0.1626},{"s":"50","t":17.111,"v":0.1614},{"s":"50","t":17.122,"v":0.1575},{"s":"50","t":17.135,"v":0.1544},{"s":"50","t":17.149,"v":0.1520},{"s":"50","t":17.162,"v":0.1512},{"s":"50","t":17.176,"v":0.1497},{"s":"50","t":17.189,"v":0.1489},{"s":"50","t":17.203,"v":0.1473},{"s":"50","t":17.211,"v":0.1450},{"s":"50","t":17.222,"v":0.1458},{"s":"50","t":17.23,"v":0.1469},{"s":"50","t":17.243,"v":0.1450},{"s":"50","t":17.257,"v":0.1438},{"s":"50","t":17.27,"v":0.1454},{"s":"50","t":17.284,"v":0.1450},{"s":"50","t":17.297,"v":0.1442},{"s":"50","t":17.311,"v":0.1446},{"s":"50","t":17.324,"v":0.1442},{"s":"50","t":17.332,"v":0.1454},{"s":"50","t":17.343,"v":0.1469},{"s":"50","t":17.357,"v":0.1473},{"s":"50","t":17.37,"v":0.1485},{"s":"50","t":17.381,"v":0.1489},{"s":"50","t":17.392,"v":0.1477},{"s":"50","t":17.405,"v":0.1489},{"s":"50","t":17.419,"v":0.1501},{"s":"50","t":17.432,"v":0.1505},{"s":"50","t":17.441,"v":0.1473},{"s":"50","t":17.451,"v":0.1469},{"s":"50","t":17.462,"v":0.1485},{"s":"50","t":17.473,"v":0.1465},{"s":"50","t":17.486,"v":0.1430},{"s":"50","t":17.495,"v":0.1426},{"s":"50","t":17.5,"v":0.1410},{"s":"50","t":17.511,"v":0.1442},{"s":"50","t":17.522,"v":0.1473},{"s":"50","t":17.532,"v":0.1477},{"s":"50","t":17.543,"v":0.1485},{"s":"50","t":17.554,"v":0.1493},{"s":"50","t":17.565,"v":0.1501},{"s":"50","t":17.576,"v":0.1485},{"s":"50","t":17.584,"v":0.1477}
]},
"data":{"name":"d"},
"layer":[
{"transform":[{"filter":"datum.s === '8'"}],
 "mark":{"type":"line","strokeWidth":2,"clip":true},
 "encoding":{
  "x":{"field":"t","type":"quantitative","scale":{"domain":[9.894,18],"nice":false,"zero":false},
   "axis":{"orient":"bottom","values":[10,11,12,13,14,15,16,17,18],"format":"d","grid":true,"gridColor":"black","gridDash":[1,7],"gridWidth":1,"gridOpacity":1,"ticks":true,"tickSize":-6,"labelPadding":15}},
  "y":{"field":"v","type":"quantitative","scale":{"domain":[0.14,0.3],"nice":false,"zero":false},
   "axis":{"orient":"left","values":[0.14,0.16,0.18,0.2,0.22,0.24,0.26,0.28,0.3],"format":".2~f","grid":true,"gridColor":"black","gridDash":[1,7],"gridWidth":1,"gridOpacity":1,"ticks":true,"tickSize":-6,"labelPadding":12}},
  "color":{"field":"s","type":"nominal","scale":{"domain":["8","50"],"range":["#ff0000","#00ff00"]},
   "legend":{"orient":"none","legendX":966.5,"legendY":8.2,"title":null,"symbolType":"M-3.625,0H3.625","symbolSize":64,"symbolStrokeWidth":2,"symbolOpacity":1,"labelAlign":"right","labelOffset":-22.5,"labelFont":"DejaVu Sans Mono","labelFontSize":10,"labelColor":"black","labelLimit":500,"rowPadding":1.8,"padding":0,"labelExpr":"'\"vp_20260318\" using ($1+7):' + datum.label"}}
 }},
{"transform":[{"filter":"datum.s === '50'"}],
 "mark":{"type":"line","strokeWidth":2,"clip":true},
 "encoding":{
  "x":{"field":"t","type":"quantitative","axis":null},
  "y":{"field":"v","type":"quantitative","axis":null},
  "color":{"field":"s","type":"nominal","scale":{"domain":["8","50"],"range":["#ff0000","#00ff00"]},
   "legend":{"orient":"none","legendX":966.5,"legendY":8.2,"title":null,"symbolType":"M-3.625,0H3.625","symbolSize":64,"symbolStrokeWidth":2,"symbolOpacity":1,"labelAlign":"right","labelOffset":-22.5,"labelFont":"DejaVu Sans Mono","labelFontSize":10,"labelColor":"black","labelLimit":500,"rowPadding":1.8,"padding":0,"labelExpr":"'\"vp_20260318\" using ($1+7):' + datum.label"}}
 }},
{"mark":{"type":"line","opacity":0},
 "encoding":{
  "x":{"field":"t","type":"quantitative","axis":{"orient":"top","values":[10,11,12,13,14,15,16,17,18],"labels":false,"grid":false,"ticks":true,"tickSize":-6}},
  "y":{"field":"v","type":"quantitative","axis":{"orient":"right","values":[0.14,0.16,0.18,0.2,0.22,0.24,0.26,0.28,0.3],"labels":false,"grid":false,"ticks":true,"tickSize":-6}},
  "detail":{"field":"s","type":"nominal"}
 }}
]
}
